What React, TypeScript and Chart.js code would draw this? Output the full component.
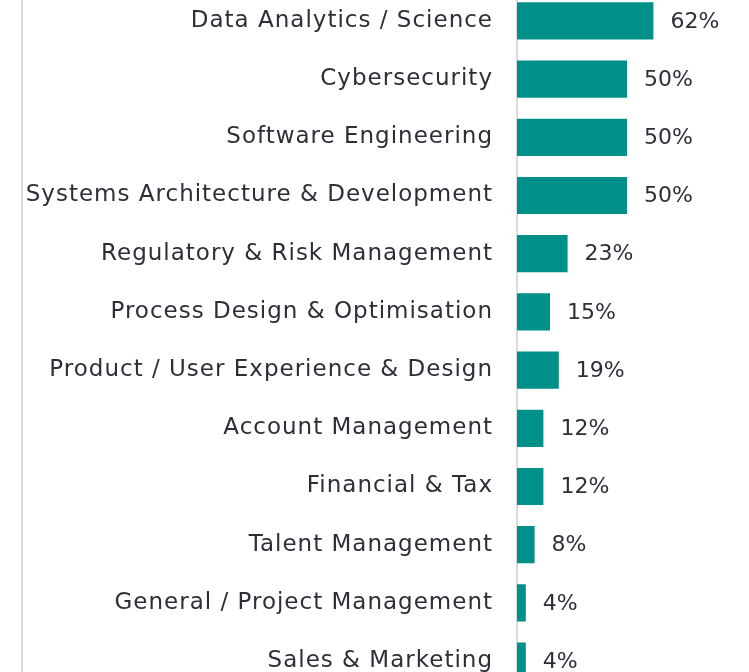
import React, { useEffect, useRef } from "react";
import { Chart, registerables } from "chart.js";

Chart.register(...registerables);

const categories: string[] = [
  "Data Analytics / Science",
  "Cybersecurity",
  "Software Engineering",
  "Systems Architecture & Development",
  "Regulatory & Risk Management",
  "Process Design & Optimisation",
  "Product / User Experience & Design",
  "Account Management",
  "Financial & Tax",
  "Talent Management",
  "General / Project Management",
  "Sales & Marketing",
];

const values: number[] = [62, 50, 50, 50, 23, 15, 19, 12, 12, 8, 4, 4];

const TEXT = "#2e2e38";
const TEAL = "#00908a";
const FONT = "'DejaVu Sans', sans-serif";

export default function App() {
  const ref = useRef<HTMLCanvasElement | null>(null);

  useEffect(() => {
    if (!ref.current) return;
    const valueLabels = {
      id: "valueLabels",
      afterDatasetsDraw(chart: any) {
        const ctx = chart.ctx;
        const meta = chart.getDatasetMeta(0);
        ctx.save();
        ctx.letterSpacing = "0px";
        ctx.fillStyle = TEXT;
        ctx.font = `22px ${FONT}`;
        ctx.textAlign = "left";
        ctx.textBaseline = "middle";
        meta.data.forEach((bar: any, i: number) => {
          ctx.fillText(values[i] + "%", bar.x + 17, bar.y + 1);
        });
        ctx.restore();
      },
    };
    const leftLine = {
      id: "leftLine",
      beforeDraw(chart: any) {
        const ctx = chart.ctx;
        ctx.save();
        ctx.strokeStyle = "#dcdcdc";
        ctx.lineWidth = 2;
        ctx.beginPath();
        ctx.moveTo(22, 0);
        ctx.lineTo(22, chart.height);
        ctx.stroke();
        ctx.restore();
        ctx.letterSpacing = "1px";
      },
    };
    const chart = new Chart(ref.current, {
      type: "bar",
      data: {
        labels: categories,
        datasets: [
          {
            data: values,
            backgroundColor: TEAL,
            borderWidth: 0,
            categoryPercentage: 1,
            barPercentage: 0.64,
          },
        ],
      },
      options: {
        indexAxis: "y",
        animation: false,
        responsive: true,
        maintainAspectRatio: false,
        layout: { padding: { top: 0, bottom: 0, left: 0, right: 12 } },
        plugins: {
          legend: { display: false },
          tooltip: { enabled: false },
        },
        scales: {
          x: {
            display: false,
            min: 0,
            max: 100,
          },
          y: {
            afterFit(scale: any) {
              scale.width = 517;
            },
            grid: { display: false, drawTicks: false },
            border: { display: true, color: "#dcdcdc", width: 2 },
            ticks: {
              color: TEXT,
              padding: 24,
              font: { family: FONT, size: 23 },
            },
          },
        },
      },
      plugins: [valueLabels, leftLine],
    });
    return () => chart.destroy();
  }, []);

  return (
    <div style={{ position: "fixed", inset: 0, overflow: "hidden", background: "#fff" }}>
      <div style={{ position: "absolute", left: 0, top: -46, width: 749, height: 774 }}>
        <canvas ref={ref} />
      </div>
    </div>
  );
}
